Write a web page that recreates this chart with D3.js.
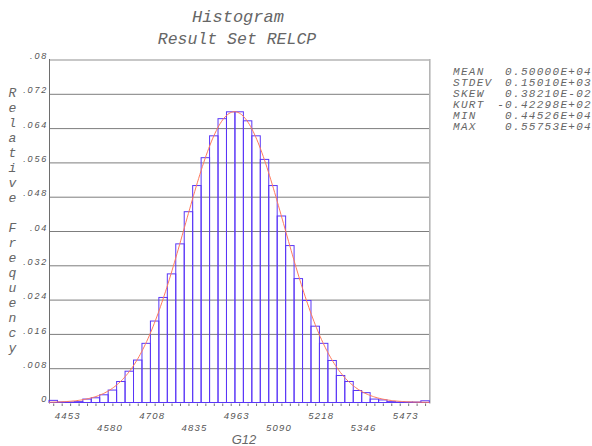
<!DOCTYPE html>
<html><head><meta charset="utf-8">
<script src="https://cdn.jsdelivr.net/npm/d3@7"></script>
<style>
html,body{margin:0;padding:0;background:#fff;}
svg{display:block;}
</style></head>
<body>
<svg id="c" width="592" height="446"></svg>
<script>
// ---------- data ----------
const statNames = ["MEAN","STDEV","SKEW","KURT","MIN","MAX"];
const statValues = ["0.50000E+04","0.15010E+03","0.38210E-02","-0.42298E+02","0.44526E+04","0.55753E+04"];
const dataMean = 5000.0, dataStdev = 150.10, dataMin = 4452.6, dataMax = 5575.3;
const binCount = 45;
const relFreq = [0.0005,0.0001,0.0001,0.0002,0.0008,0.0011,0.0018,0.0029,0.0049,0.0073,
                 0.0099,0.0138,0.0190,0.0245,0.0300,0.0370,0.0445,0.0506,0.0571,0.0622,
                 0.0662,0.0678,0.0678,0.0657,0.0622,0.0567,0.0506,0.0435,0.0366,0.0289,
                 0.0238,0.0178,0.0138,0.0098,0.0063,0.0049,0.0028,0.0023,0.0008,0.0006,
                 0.0002,0.0001,0.0001,0.0001,0.0004];
const xTickValues = [4452.6,4580.2,4707.7,4835.3,4962.9,5090.5,5218.0,5345.6,5473.2];
const xTickLabels = ["4453","4580","4708","4835","4963","5090","5218","5346","5473"];
const yTickValues = [0,0.008,0.016,0.024,0.032,0.04,0.048,0.056,0.064,0.072,0.08];
const yTickLabels = ["0",".008",".016",".024",".032",".04",".048",".056",".064",".072",".08"];
const titleText = "Histogram", subtitleText = "Result Set RELCP";
const xTitle = "G12", yTitle = "Relative Frequency";

// ---------- layout ----------
const L = 49, R = 429.3, T = 59.5, B = 402.5;
const binW = (dataMax - dataMin) / (binCount - 1);
const binCenters = d3.range(binCount).map(i => dataMin + i * binW);

const x = d3.scaleLinear().domain([dataMin - binW/2, dataMax + binW/2]).range([L, R]);
const y = d3.scaleLinear().domain([0, 0.08]).range([B, T]);

const svg = d3.select("#c");
const mono = "'Liberation Mono','Courier New',monospace";
const sans = "'Liberation Sans',Arial,sans-serif";

// titles
svg.append("text").attr("x", 238).attr("y", 22).attr("text-anchor","middle")
  .attr("font-family", mono).attr("font-style","italic").attr("font-size", 17)
  .attr("fill","#666").text(titleText);
svg.append("text").attr("x", 237).attr("y", 44).attr("text-anchor","middle")
  .attr("font-family", mono).attr("font-style","italic").attr("font-size", 16.5)
  .attr("fill","#666").text(subtitleText);

// gridlines + y labels via axis
const yAxis = d3.axisLeft(y).tickValues(yTickValues)
  .tickFormat((d,i) => yTickLabels[i]).tickSize(-(R - L)).tickPadding(2);
const gy = svg.append("g").attr("transform", `translate(${L},0)`).call(yAxis);
gy.select(".domain").remove();
gy.selectAll(".tick line").attr("stroke", (d) => d === 0.08 ? "#b5b5b5" : "#7d7d7d")
  .attr("stroke-width", (d) => d === 0.08 ? 1.6 : 1)
  .attr("opacity", (d) => d === 0 ? 0 : 1);
gy.selectAll(".tick text").attr("font-family", sans).attr("font-style","italic")
  .attr("font-size", 9).attr("letter-spacing", 1.8).attr("fill","#555")
  .attr("dy", "-0.1em").attr("x", -1);

// right border and left axis line
svg.append("line").attr("x1", R + 0.5).attr("x2", R + 0.5).attr("y1", T - 0.5).attr("y2", B + 1)
  .attr("stroke", "#b5b5b5").attr("stroke-width", 1.6);
svg.append("line").attr("x1", L + 0.5).attr("x2", L + 0.5).attr("y1", T - 0.5).attr("y2", B + 1)
  .attr("stroke", "#6e6e6e").attr("stroke-width", 1);

// minor ticks at bin centres
const xMinor = d3.axisBottom(x).tickValues(binCenters).tickFormat("").tickSize(2.5);
const gm = svg.append("g").attr("transform", `translate(0,${B + 1})`).call(xMinor);
gm.select(".domain").remove();
gm.selectAll(".tick line").attr("stroke", "#777");

// bars
svg.append("g").selectAll("rect").data(relFreq).join("rect")
  .attr("x", (d,i) => x(binCenters[i] - binW/2))
  .attr("width", (d,i) => x(binCenters[i] + binW/2) - x(binCenters[i] - binW/2))
  .attr("y", d => y(d))
  .attr("height", d => y(0) - y(d))
  .attr("fill", "none").attr("stroke", "#5a36f7").attr("stroke-width", 1);

// fitted normal curve
const curvePts = d3.range(0, 301).map(i => {
  const v = x.domain()[0] + (x.domain()[1] - x.domain()[0]) * i / 300;
  const z = (v - dataMean) / dataStdev;
  return [v, binW / (dataStdev * Math.sqrt(2 * Math.PI)) * Math.exp(-0.5 * z * z)];
});
svg.append("path").datum(curvePts)
  .attr("d", d3.line().x(d => x(d[0])).y(d => y(d[1])))
  .attr("fill","none").attr("stroke","#ff7a5c").attr("stroke-width",1);

// x axis labels
const xAxis = d3.axisBottom(x).tickValues(xTickValues)
  .tickFormat((d,i) => xTickLabels[i]).tickSize(0);
const gx = svg.append("g").attr("transform", `translate(0,${B})`).call(xAxis);
gx.select(".domain").remove();
gx.selectAll(".tick text").attr("font-family", sans).attr("font-style","italic")
  .attr("font-size", 9.5).attr("letter-spacing", 1.2).attr("fill","#555")
  .attr("text-anchor","start").attr("dy", 0).attr("x", 1)
  .attr("y", (d,i) => i % 2 === 0 ? 16 : 28);

svg.append("text").attr("x", 244).attr("y", 444).attr("text-anchor","middle")
  .attr("font-family", sans).attr("font-style","italic").attr("font-size", 13)
  .attr("fill","#666").text(xTitle);

// vertical stacked y title
svg.append("g").selectAll("text").data(yTitle.split("")).join("text")
  .attr("x", 12.5).attr("y", (d,i) => 96.5 + i * 15.0).attr("text-anchor","middle")
  .attr("font-family", mono).attr("font-style","italic").attr("font-size", 13)
  .attr("fill","#666").text(d => d);

// statistics box
const sg = svg.append("g");
sg.selectAll("text.n").data(statNames).join("text").attr("class","n")
  .attr("x", 453).attr("y", (d,i) => 74.5 + i * 11.1)
  .attr("font-family", mono).attr("font-style","italic").attr("font-size", 11)
  .attr("letter-spacing", 1.3).attr("fill","#666").text(d => d);
sg.selectAll("text.v").data(statValues).join("text").attr("class","v")
  .attr("x", 592).attr("y", (d,i) => 74.5 + i * 11.1).attr("text-anchor","end")
  .attr("font-family", mono).attr("font-style","italic").attr("font-size", 11)
  .attr("letter-spacing", 1.3).attr("fill","#666").text(d => d);
</script>
</body></html>
